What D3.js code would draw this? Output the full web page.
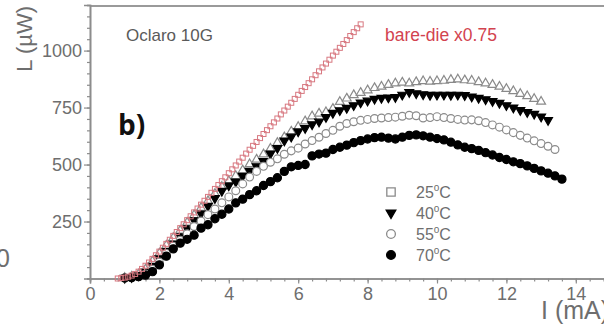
<!DOCTYPE html>
<html>
<head>
<meta charset="utf-8">
<script src="https://cdn.jsdelivr.net/npm/d3@7"></script>
<style>
  html, body { margin: 0; padding: 0; background: #fff; overflow: hidden; }
  svg { display: block; font-family: "Liberation Sans", Arial, Helvetica, sans-serif; }
</style>
</head>
<body>
<div id="chart"></div>
<script>
// measured curves share one current grid (mA), 0.2 mA steps
const current = [1.0, 1.2, 1.4, 1.6, 1.8, 2.0, 2.2, 2.4, 2.6, 2.8, 3.0, 3.2, 3.4, 3.6, 3.8, 4.0,
  4.2, 4.4, 4.6, 4.8, 5.0, 5.2, 5.4, 5.6, 5.8, 6.0, 6.2, 6.4, 6.6, 6.8, 7.0, 7.2, 7.4, 7.6, 7.8, 8.0,
  8.2, 8.4, 8.6, 8.8, 9.0, 9.2, 9.4, 9.6, 9.8, 10.0, 10.2, 10.4, 10.6, 10.8, 11.0, 11.2, 11.4, 11.6,
  11.8, 12.0, 12.2, 12.4, 12.6, 12.8, 13.0, 13.2, 13.4, 13.6];

// L (uW) per temperature
const t25 = [3, 8, 18, 40, 75, 110, 145, 178, 210, 245, 278, 310, 340, 372, 402, 428,
  450, 475, 502, 522, 545, 570, 595, 620, 645, 665, 690, 712, 724, 730, 745, 775, 790, 805, 815, 826,
  836, 842, 850, 856, 860, 856, 862, 866, 864, 866, 868, 872, 874, 870, 868, 862, 856, 850,
  842, 832, 822, 810, 800, 788, 776];
const t40 = [3, 6, 14, 30, 55, 88, 120, 152, 185, 220, 255, 285, 318, 352, 384, 408,
  425, 450, 472, 492, 515, 548, 572, 605, 622, 645, 660, 676, 688, 708, 726, 738, 748, 760, 772, 780,
  788, 792, 794, 796, 806, 818, 812, 808, 805, 806, 806, 805, 806, 804, 798, 792, 786, 778,
  770, 760, 750, 739, 730, 722, 710, 695];
const t55 = [2, 5, 10, 20, 40, 72, 110, 142, 168, 196, 228, 252, 280, 305, 332, 358,
  385, 415, 445, 470, 492, 510, 525, 545, 560, 572, 590, 605, 620, 636, 650, 668, 680, 688, 694, 698,
  702, 704, 706, 708, 712, 716, 714, 704, 706, 710, 706, 702, 698, 695, 696, 692, 684, 674,
  664, 652, 640, 628, 616, 604, 592, 580, 566];
const t70 = [2, 4, 8, 15, 30, 60, 98, 130, 155, 172, 190, 221, 236, 262, 282, 305,
  332, 348, 368, 385, 408, 425, 442, 470, 490, 496, 500, 538, 546, 550, 566, 576, 585, 596, 605, 612,
  618, 620, 616, 612, 620, 628, 630, 626, 620, 614, 608, 598, 586, 576, 570, 562, 552, 542,
  531, 522, 512, 504, 494, 483, 472, 462, 450, 436];

// bare-die x0.75, 0.1 mA steps
const bareCurrent = [0.8, 0.9, 1.0, 1.1, 1.2, 1.3, 1.4, 1.5, 1.6, 1.7, 1.8, 1.9, 2.0, 2.1, 2.2, 2.3,
  2.4, 2.5, 2.6, 2.7, 2.8, 2.9, 3.0, 3.1, 3.2, 3.3, 3.4, 3.5, 3.6, 3.7, 3.8, 3.9, 4.0, 4.1, 4.2, 4.3,
  4.4, 4.5, 4.6, 4.7, 4.8, 4.9, 5.0, 5.1, 5.2, 5.3, 5.4, 5.5, 5.6, 5.7, 5.8, 5.9, 6.0, 6.1, 6.2, 6.3,
  6.4, 6.5, 6.6, 6.7, 6.8, 6.9, 7.0, 7.1, 7.2, 7.3, 7.4, 7.5, 7.6, 7.7, 7.8];
const bareDie = [0, 2, 4, 8, 13, 20, 30, 42, 56, 70, 86, 102, 118, 135, 152, 170,
  187, 204, 221, 238, 256, 273, 290, 307, 324, 341, 358, 376, 393, 410, 427, 444, 462, 479, 496, 513,
  530, 548, 565, 582, 599, 616, 634, 651, 668, 685, 702, 720, 737, 754, 771, 788, 806, 823, 840, 857,
  874, 892, 909, 926, 943, 960, 978, 995, 1012, 1029, 1046, 1064, 1081, 1098, 1115];

const legendLabels = ['25', '40', '55', '70'];
const xTicks = [0, 2, 4, 6, 8, 10, 12, 14];
const yTicks = [250, 500, 750, 1000];

const width = 604, height = 326;
const svg = d3.select('#chart').append('svg')
  .attr('width', width)
  .attr('height', height);

const x = d3.scaleLinear().domain([0, 15]).range([90, 610.5]);
const y = d3.scaleLinear().domain([0, 1200]).range([278.5, 5]);

const axisGray = '#8c8c8c';
const textGray = '#6e6e6e';

// top frame line
svg.append('line')
  .attr('x1', x(0)).attr('x2', width)
  .attr('y1', y(1200) + 1).attr('y2', y(1200) + 1)
  .attr('stroke', '#9a9a9a').attr('stroke-width', 2);

// minor ticks
const xMinor = svg.append('g').attr('transform', `translate(0,${y(0)})`)
  .call(d3.axisBottom(x).tickValues(d3.range(0, 15.01, 0.4)).tickSize(3).tickFormat(''));
const yMinor = svg.append('g').attr('transform', `translate(${x(0)},0)`)
  .call(d3.axisLeft(y).tickValues(d3.range(0, 1200.1, 50)).tickSize(3).tickFormat(''));

// major ticks + labels
const xAxis = svg.append('g').attr('transform', `translate(0,${y(0)})`)
  .call(d3.axisBottom(x).tickValues(xTicks).tickSize(5).tickPadding(4).tickFormat(d3.format('d')));
const yAxis = svg.append('g').attr('transform', `translate(${x(0)},0)`)
  .call(d3.axisLeft(y).tickValues(yTicks).tickSize(6).tickPadding(2).tickFormat(d3.format('d')));

[xMinor, yMinor, xAxis, yAxis].forEach(g => {
  g.select('.domain').attr('stroke', axisGray).attr('stroke-width', 1.6);
  g.selectAll('.tick line').attr('stroke', axisGray).attr('stroke-width', 1.2);
  g.selectAll('.tick text').attr('fill', textGray).style('font-size', '18px')
    .style('font-family', '"Liberation Sans", Arial, sans-serif');
});

// axis titles
svg.append('text')
  .attr('x', 541).attr('y', 319)
  .attr('fill', textGray).style('font-size', '25px')
  .text('I (mA)');
svg.append('text')
  .attr('transform', 'translate(32,6) rotate(-90)')
  .attr('text-anchor', 'end')
  .attr('fill', textGray).style('font-size', '22px')
  .text('L (\u00b5W)');

// stray "0" from the neighbouring panel
svg.append('text')
  .attr('x', -4).attr('y', 267)
  .attr('fill', textGray).style('font-size', '25px')
  .text('0');

svg.append('text')
  .attr('x', 126).attr('y', 41)
  .attr('fill', '#5a5a5a').style('font-size', '17px')
  .text('Oclaro 10G');
svg.append('text')
  .attr('x', 385).attr('y', 41)
  .attr('fill', '#d2434f').style('font-size', '17.5px')
  .text('bare-die x0.75');
svg.append('text')
  .attr('x', 118).attr('y', 135)
  .attr('fill', '#111').style('font-size', '28px').style('font-weight', 'bold')
  .style('font-family', '"Open Sans", "Liberation Sans", sans-serif')
  .text('b)');

const sym = (type, size) => d3.symbol().type(type).size(size)();
const series = [
  { values: t25, path: sym(d3.symbolTriangle, 34), fill: '#fff', stroke: '#8a8a8a', rot: 0 },
  { values: t40, path: sym(d3.symbolTriangle, 34), fill: '#000', stroke: '#000', rot: 180 },
  { values: t55, path: sym(d3.symbolCircle, 48), fill: '#fff', stroke: '#8a8a8a', rot: 0 },
  { values: t70, path: sym(d3.symbolCircle, 52), fill: '#000', stroke: '#000', rot: 0 }
];

const plot = svg.append('g');
series.forEach(s => {
  const pts = s.values.map((v, i) => [current[i], v]);
  plot.append('g').selectAll('path')
    .data(pts)
    .join('path')
    .attr('d', s.path)
    .attr('transform', d => `translate(${x(d[0])},${y(d[1])}) rotate(${s.rot})`)
    .attr('fill', s.fill)
    .attr('stroke', s.stroke)
    .attr('stroke-width', 1.2);
});

// bare-die on top
const barePts = bareDie.map((v, i) => [bareCurrent[i], v]);
plot.append('g').selectAll('rect')
  .data(barePts)
  .join('rect')
  .attr('x', d => x(d[0]) - 2.5)
  .attr('y', d => y(d[1]) - 2.5)
  .attr('width', 5).attr('height', 5)
  .attr('fill', 'none')
  .attr('stroke', '#d87880')
  .attr('stroke-width', 1);

// legend
const legendSyms = [
  { path: sym(d3.symbolSquare, 70), fill: '#fff', stroke: '#8a8a8a', rot: 0 },
  { path: sym(d3.symbolTriangle, 40), fill: '#000', stroke: '#000', rot: 180 },
  { path: sym(d3.symbolCircle, 60), fill: '#fff', stroke: '#8a8a8a', rot: 0 },
  { path: sym(d3.symbolCircle, 60), fill: '#000', stroke: '#000', rot: 0 }
];
const legend = svg.append('g');
legendLabels.forEach((lab, i) => {
  const cy = 192 + i * 21;
  const s = legendSyms[i];
  legend.append('path')
    .attr('d', s.path)
    .attr('transform', `translate(391,${cy}) rotate(${s.rot})`)
    .attr('fill', s.fill).attr('stroke', s.stroke).attr('stroke-width', 1.3);
  const t = legend.append('text')
    .attr('x', 416).attr('y', cy + 6)
    .attr('fill', textGray).style('font-size', '16px');
  t.append('tspan').text(lab);
  t.append('tspan').attr('dy', -7).style('font-size', '10px').text('o');
  t.append('tspan').attr('dy', 7).text('C');
});
</script>
</body>
</html>
